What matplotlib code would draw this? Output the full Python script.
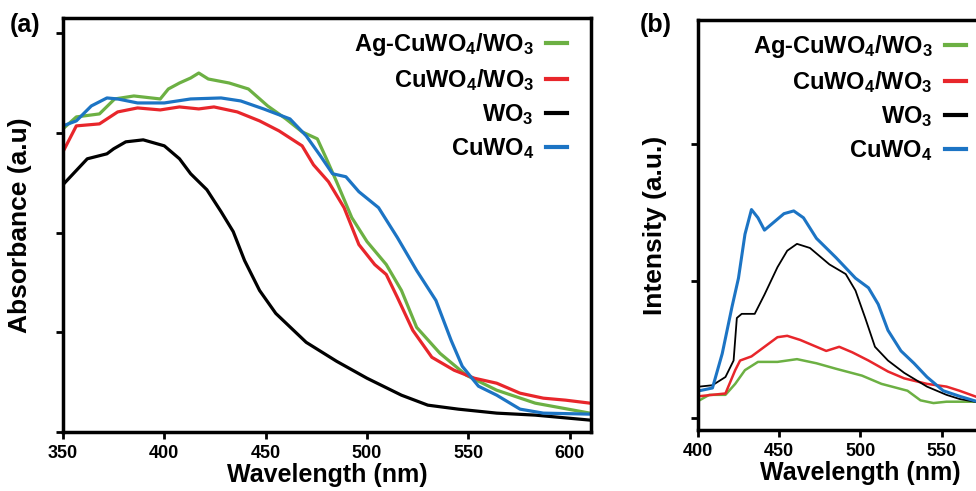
import numpy as np
import matplotlib.pyplot as plt

plt.rcParams['font.family'] = ['Liberation Sans', 'DejaVu Sans']
plt.rcParams['font.weight'] = 'bold'
plt.rcParams['mathtext.default'] = 'regular'

labels = ['Ag-CuWO$_4$/WO$_3$', 'CuWO$_4$/WO$_3$', 'WO$_3$', 'CuWO$_4$']
colors = ['#6cb043', '#e8262b', '#000000', '#1c74c4']

# (a) absorbance
wl_ag_a = [350, 356.6, 368, 375.5, 385, 398, 402, 407.5, 413, 417, 421.7, 432, 441.5, 451, 460, 468,
           475.5, 480, 485, 492.5, 500, 509.5, 517, 524.5, 536, 549, 564, 583, 610]
abs_ag = [3.04, 3.16, 3.19, 3.34, 3.37, 3.34, 3.44, 3.50, 3.55, 3.60, 3.54, 3.50, 3.44, 3.27, 3.14, 3.01,
          2.94, 2.74, 2.51, 2.15, 1.91, 1.68, 1.42, 1.05, 0.79, 0.57, 0.42, 0.29, 0.19]
wl_cw_a = [350, 356.6, 368, 377, 386.8, 398, 407.5, 417, 424.5, 436, 447, 456.6, 468, 473.6, 481, 488.7,
           496, 503.8, 509.5, 515, 522.6, 532, 543, 553, 564, 575.5, 587, 598, 610]
abs_cw = [2.81, 3.07, 3.09, 3.21, 3.25, 3.23, 3.26, 3.24, 3.26, 3.21, 3.12, 3.02, 2.87, 2.68, 2.51, 2.25,
          1.88, 1.68, 1.58, 1.35, 1.02, 0.75, 0.62, 0.54, 0.49, 0.39, 0.34, 0.32, 0.29]
wl_w_a = [350, 362, 371.7, 375, 381, 389.6, 400, 407.5, 413, 421, 428, 434, 439.6, 447, 455, 470, 485,
          500, 517, 530, 545, 564, 583, 610]
abs_w = [2.48, 2.74, 2.79, 2.84, 2.91, 2.93, 2.87, 2.74, 2.59, 2.43, 2.21, 2.01, 1.72, 1.42, 1.19, 0.90,
         0.71, 0.54, 0.37, 0.27, 0.23, 0.19, 0.17, 0.12]
wl_c_a = [350, 356.6, 364, 371.7, 377, 386.8, 400, 413, 428, 437.7, 449, 462, 470, 477, 483, 489.6, 496,
          505.7, 515, 524.5, 534, 541.5, 547, 555, 564, 575.5, 587, 610]
abs_c = [3.07, 3.12, 3.27, 3.35, 3.34, 3.30, 3.30, 3.34, 3.35, 3.32, 3.24, 3.14, 2.97, 2.77, 2.59, 2.56,
         2.41, 2.25, 1.95, 1.62, 1.32, 0.92, 0.66, 0.46, 0.37, 0.23, 0.19, 0.18]

# (b) PL intensity
wl_ag_b = [401, 407, 417, 423, 429, 437, 449, 461, 473, 485, 501, 513, 529, 537, 545, 553, 575]
pl_ag = [0.13, 0.17, 0.17, 0.25, 0.35, 0.41, 0.41, 0.43, 0.40, 0.36, 0.31, 0.25, 0.20, 0.13, 0.11, 0.12, 0.12]
wl_cw_b = [401, 417, 423, 426, 433, 441, 449, 455, 463, 473, 479, 487, 495, 505, 517, 527, 541, 553, 561, 575]
pl_cw = [0.16, 0.18, 0.35, 0.42, 0.45, 0.52, 0.59, 0.60, 0.57, 0.52, 0.49, 0.52, 0.48, 0.42, 0.34, 0.29,
         0.25, 0.23, 0.20, 0.14]
wl_w_b = [401, 409, 417, 422, 424, 427, 435, 441, 449, 455, 461, 469, 481, 491, 497, 503, 509, 517, 527,
          541, 553, 561, 575]
pl_w = [0.23, 0.24, 0.30, 0.42, 0.73, 0.76, 0.76, 0.90, 1.10, 1.22, 1.27, 1.24, 1.12, 1.05, 0.93, 0.73,
        0.52, 0.42, 0.33, 0.23, 0.17, 0.14, 0.11]
wl_c_b = [401, 409, 415, 421, 425, 429, 433, 437, 441, 445, 453, 459, 465, 473, 485, 497, 505, 511, 517,
          525, 533, 541, 551, 561, 575]
pl_c = [0.20, 0.22, 0.47, 0.81, 1.02, 1.34, 1.52, 1.46, 1.37, 1.41, 1.49, 1.51, 1.46, 1.31, 1.17, 1.02,
        0.95, 0.83, 0.64, 0.49, 0.40, 0.30, 0.20, 0.16, 0.11]

fig = plt.figure(figsize=(9.76, 4.91), dpi=100)
ax1 = fig.add_axes([0.0645, 0.120, 0.541, 0.843])
ax2 = fig.add_axes([0.715, 0.124, 0.333, 0.835])

series_a = [(wl_ag_a, abs_ag), (wl_cw_a, abs_cw), (wl_w_a, abs_w), (wl_c_a, abs_c)]
for (x, y), lab, col in zip(series_a, labels, colors):
    ax1.plot(x, y, color=col, lw=2.3, label=lab)

series_b = [(wl_ag_b, pl_ag), (wl_cw_b, pl_cw), (wl_w_b, pl_w), (wl_c_b, pl_c)]
widths_b = [1.8, 1.8, 1.3, 2.2]
for (x, y), lab, col, w in zip(series_b, labels, colors, widths_b):
    ax2.plot(x, y, color=col, lw=w, label=lab)

ax1.set_xlim(350, 610.5)
ax1.set_ylim(0, 4.15)
ax1.set_xticks([350, 400, 450, 500, 550, 600])
ax1.set_yticks([0, 1, 2, 3, 4])
ax1.set_yticklabels([])
ax1.set_xlabel('Wavelength (nm)', fontsize=18, fontweight='bold', labelpad=1)
ax1.set_ylabel('Absorbance (a.u)', fontsize=19, fontweight='bold', labelpad=13)

# panel (b) runs past the right edge of the picture, as in the source
ax2.set_xlim(400, 600)
ax2.set_ylim(-0.087, 2.9)
ax2.set_xticks([400, 450, 500, 550])
ax2.set_yticks([0, 1, 2])
ax2.set_yticklabels([])
ax2.set_xlabel('Wavelength (nm)', fontsize=18, fontweight='bold', labelpad=1)
ax2.set_ylabel('Intensity (a.u.)', fontsize=19, fontweight='bold', labelpad=13)

for ax in (ax1, ax2):
    for s in ax.spines.values():
        s.set_linewidth(2.5)
    ax.tick_params(width=2, length=5, labelsize=13, pad=4)
    for t in ax.get_xticklabels():
        t.set_fontweight('bold')

leg1 = ax1.legend(loc='upper right', bbox_to_anchor=(0.995, 1.02), frameon=False, markerfirst=False,
                  handlelength=0.9, handletextpad=0.5, labelspacing=0.38, fontsize=17)
leg2 = ax2.legend(loc='upper right', bbox_to_anchor=(0.89, 1.02), frameon=False, markerfirst=False,
                  handlelength=0.9, handletextpad=0.5, labelspacing=0.38, fontsize=17)
for leg in (leg1, leg2):
    for t in leg.get_texts():
        t.set_fontweight('bold')
    for h in leg.get_lines():
        h.set_linewidth(3)

fig.text(0.010, 0.935, '(a)', fontsize=18, fontweight='bold')
fig.text(0.655, 0.935, '(b)', fontsize=18, fontweight='bold')

fig.savefig('out.png', dpi=100)
